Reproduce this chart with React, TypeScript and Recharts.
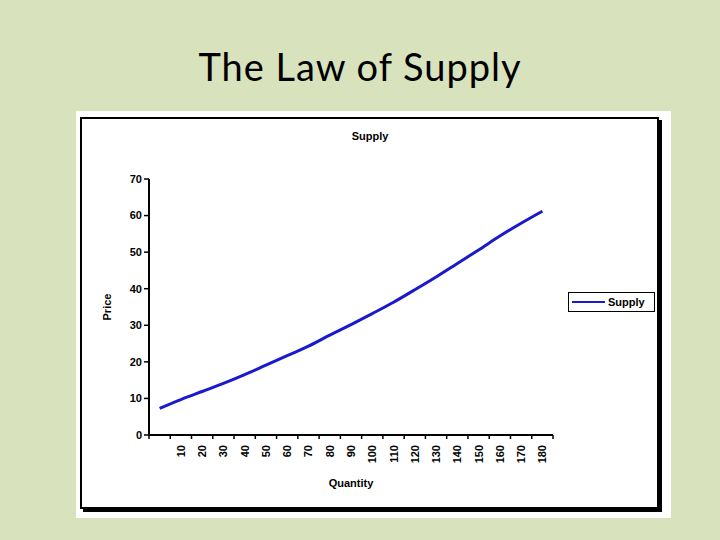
import React from 'react';
import { LineChart, Line, XAxis, YAxis, Legend } from 'recharts';

const categories = ['', '10', '20', '30', '40', '50', '60', '70', '80', '90', '100', '110', '120', '130', '140', '150', '160', '170', '180'];
const prices = [7.3, 9.7, 11.9, 14.1, 16.5, 19.1, 21.7, 24.3, 27.3, 30.2, 33.2, 36.3, 39.7, 43.2, 46.9, 50.6, 54.4, 57.9, 61.2];
const yTicks = [0, 10, 20, 30, 40, 50, 60, 70];

const data = categories.map((q, i) => ({ quantity: q, Supply: prices[i] }));

const FONT = '"Liberation Sans", Arial, sans-serif';
const LINE_COLOR = '#1a1acc';

const XTick = (props: any) => {
  const { x, y, payload, index, visibleTicksCount } = props;
  const off = payload.offset || 0;
  const isLast = index === visibleTicksCount - 1;
  return (
    <g>
      <line x1={x - off} y1={y - 8} x2={x - off} y2={y - 4} stroke="#000" strokeWidth={1.5} />
      {isLast && <line x1={x + off} y1={y - 8} x2={x + off} y2={y - 4} stroke="#000" strokeWidth={1.5} />}
      <text
        x={x}
        y={y + 2}
        transform={`rotate(-90, ${x}, ${y + 2})`}
        textAnchor="end"
        dominantBaseline="central"
        fontFamily={FONT}
        fontWeight="bold"
        fontSize={11}
        fill="#000"
      >
        {payload.value}
      </text>
    </g>
  );
};

const LegendBox = () => (
  <div
    style={{
      width: 87,
      height: 20,
      border: '1px solid #000',
      background: '#fff',
      display: 'flex',
      alignItems: 'center',
      boxSizing: 'border-box',
    }}
  >
    <svg width={36} height={10} style={{ marginLeft: 3 }}>
      <line x1={0} y1={5} x2={33} y2={5} stroke={LINE_COLOR} strokeWidth={2} />
    </svg>
    <span style={{ fontFamily: FONT, fontWeight: 'bold', fontSize: 11, color: '#000' }}>Supply</span>
  </div>
);

export default function App() {
  return (
    <div style={{ position: 'absolute', left: 0, top: 0, width: 720, height: 540, background: '#d8e3be', overflow: 'hidden' }}>
      <div
        style={{
          position: 'absolute',
          left: 0,
          top: 43,
          width: 720,
          textAlign: 'center',
          fontFamily: 'Lato, "Open Sans", sans-serif',
          fontSize: 38,
          letterSpacing: 1,
          color: '#000',
        }}
      >
        The Law of Supply
      </div>
      <div style={{ position: 'absolute', left: 76, top: 111, width: 595, height: 407, background: '#fff' }} />
      <div
        style={{
          position: 'absolute',
          left: 80,
          top: 117,
          width: 579,
          height: 392,
          border: '2px solid #000',
          boxShadow: '3px 3px 0 #000',
          background: '#fff',
          boxSizing: 'border-box',
        }}
      />
      <div
        style={{
          position: 'absolute',
          left: 0,
          top: 130,
          width: 740,
          textAlign: 'center',
          fontFamily: FONT,
          fontWeight: 'bold',
          fontSize: 11,
          color: '#000',
        }}
      >
        Supply
      </div>
      <div style={{ position: 'absolute', left: 0, top: 0 }}>
        <LineChart width={720} height={540} data={data} margin={{ top: 179, right: 167, bottom: 65, left: 95 }}>
          <XAxis
            dataKey="quantity"
            scale="band"
            interval={0}
            tickLine={false}
            axisLine={{ stroke: '#000', strokeWidth: 2 }}
            tick={<XTick />}
            height={40}
            label={{
              value: 'Quantity',
              position: 'insideBottom',
              offset: -12,
              style: { fontFamily: FONT, fontWeight: 'bold', fontSize: 11, fill: '#000' },
            }}
          />
          <YAxis
            domain={[0, 70]}
            ticks={yTicks}
            width={54}
            axisLine={{ stroke: '#000', strokeWidth: 2 }}
            tickLine={{ stroke: '#000', strokeWidth: 1.5 }}
            tickSize={5}
            tick={{ fontFamily: FONT, fontWeight: 'bold', fontSize: 11, fill: '#000' }}
            label={{
              value: 'Price',
              angle: -90,
              position: 'insideLeft',
              offset: 12,
              style: { fontFamily: FONT, fontWeight: 'bold', fontSize: 11, fill: '#000', textAnchor: 'middle' },
            }}
          />
          <Legend
            layout="horizontal"
            align="center"
            verticalAlign="middle"
            wrapperStyle={{ position: 'absolute', left: 568, top: 292, width: 90 }}
            content={() => <LegendBox />}
          />
          <Line
            type="monotone"
            dataKey="Supply"
            stroke={LINE_COLOR}
            strokeWidth={3}
            dot={false}
            isAnimationActive={false}
          />
        </LineChart>
      </div>
    </div>
  );
}
